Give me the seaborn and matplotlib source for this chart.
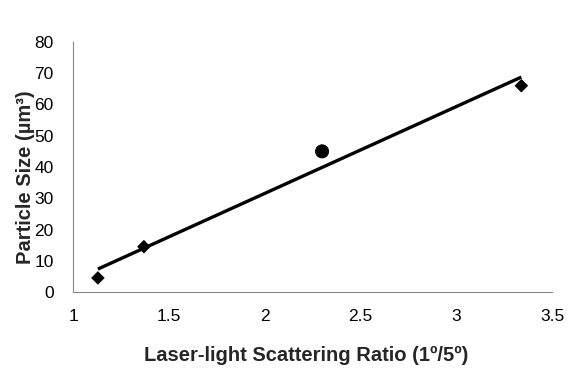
import numpy as np
import pandas as pd
import matplotlib
matplotlib.use("Agg")
import matplotlib.pyplot as plt
import seaborn as sns

# Data
ratio = [1.13, 1.37, 2.30, 3.34]
size = [4.5, 14.5, 45.0, 66.0]
kind = ["diamond", "diamond", "circle", "diamond"]

x_ticks = [1, 1.5, 2, 2.5, 3, 3.5]
y_ticks = [0, 10, 20, 30, 40, 50, 60, 70, 80]

df = pd.DataFrame({"ratio": ratio, "size": size, "kind": kind})

sns.set_theme(style="white")
plt.rcParams["font.family"] = ["Liberation Sans", "DejaVu Sans"]

fig = plt.figure(figsize=(5.73, 3.90), dpi=100)
ax = fig.add_axes([73 / 573, 1 - 292 / 390, (552 - 73) / 573, (292 - 42) / 390])

sns.regplot(data=df, x="ratio", y="size", scatter=False, ci=None, ax=ax,
            line_kws=dict(color="black", lw=2.4, solid_capstyle="butt"))
sns.scatterplot(data=df, x="ratio", y="size", style="kind",
                markers={"diamond": "D", "circle": "o"},
                s=55, color="black", edgecolor="black",
                legend=False, ax=ax, zorder=3)
# circle slightly larger than the diamonds
ax.collections[-1].set_sizes([40, 40, 90, 40])

ax.set_xlim(1, 3.5)
ax.set_ylim(0, 80)
ax.set_xticks(x_ticks)
ax.set_xticklabels([f"{t:g}" for t in x_ticks])
ax.set_yticks(y_ticks)

for s in ["top", "right"]:
    ax.spines[s].set_visible(False)
for s in ["left", "bottom"]:
    ax.spines[s].set_color("#888888")
    ax.spines[s].set_linewidth(0.8)

ax.tick_params(axis="both", length=0, labelsize=12.5, colors="black")
ax.tick_params(axis="x", pad=12)
ax.tick_params(axis="y", pad=14)

ax.set_xlabel("Laser-light Scattering Ratio (1º/5º)", fontsize=14.5,
              fontweight="bold")
ax.set_ylabel("Particle Size (µm³)", fontsize=14.5, fontweight="bold")
ax.xaxis.set_label_coords(0.487, -0.215)
ax.yaxis.set_label_coords(-0.08, 0.46)

fig.savefig("out.png", dpi=100)
